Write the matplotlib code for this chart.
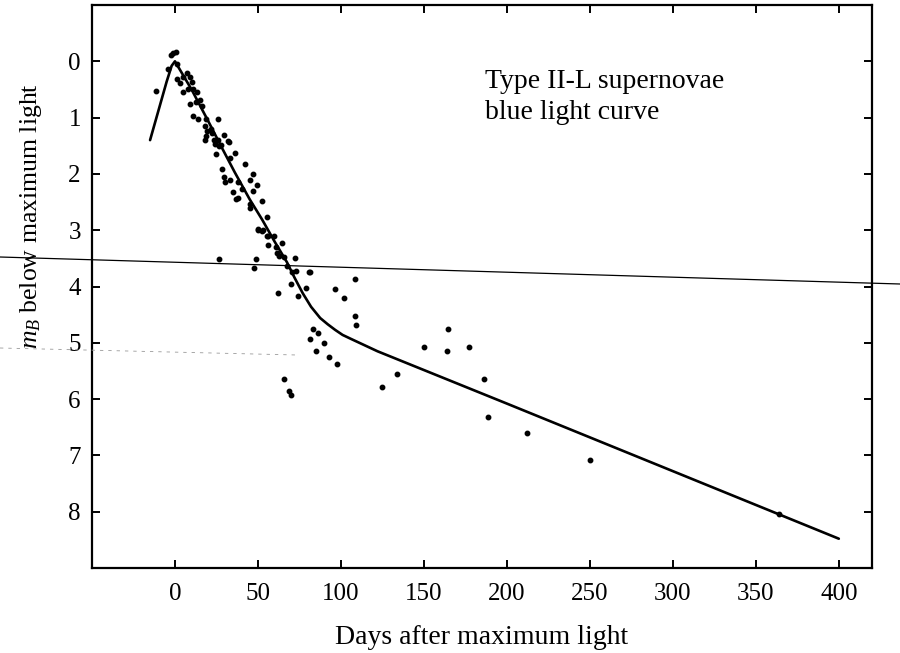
import matplotlib
matplotlib.use("Agg")
import matplotlib.pyplot as plt
from matplotlib.lines import Line2D

plt.rcParams['font.family'] = ['Liberation Serif', 'DejaVu Serif']
plt.rcParams['mathtext.fontset'] = 'custom'
plt.rcParams['mathtext.rm'] = 'Liberation Serif'
plt.rcParams['mathtext.it'] = 'Liberation Serif:italic'

# Template light curve (days after max, magnitudes below max)
curve_days = [-15, -10, -5, -2, 0, 10, 20, 28, 36, 45, 52.5, 60, 67.5, 72, 77, 82, 87.5, 92, 96.5, 101, 106, 122, 200, 300, 400]
curve_mag = [1.40, 0.88, 0.36, 0.08, 0.0, 0.50, 1.06, 1.52, 1.97, 2.45, 2.81, 3.20, 3.57, 3.84, 4.12, 4.36, 4.56, 4.67, 4.77, 4.86, 4.93, 5.15, 6.08, 7.28, 8.48]

# Observed points
obs_days = [-1.2, -2.5, 0.5, -4, 1, -11.5, 1.2, 3, 5, 7, 9, 10, 11, 8, 5, 13, 15, 12.5, 9, 16,
            11, 14, 19, 26, 18, 22, 19, 26, 28, 32, 24,
            19.3, 22.3, 29.6, 18, 23.5, 32.6, 26.5, 24.7, 36, 33.2, 42.2, 28.3, 47, 29.6, 33.2, 45.2,
            49.5, 30, 38, 40.4, 47, 35, 38, 36.8, 52.5, 45.2, 45.2, 55.5, 50, 52.5, 55.5,
            50, 53, 56, 59.7, 56, 64.5, 61, 61.5, 62.7, 66, 72.4, 49, 47.6, 67.5, 70.6, 73, 80.8,
            70, 79, 62, 74, 26.5, 108.6, 96.5, 102, 81.4,
            108.6, 109, 164.7, 150, 163.8, 177, 133.7, 125, 186, 188.6, 212, 250, 364,
            83.3, 86, 81.4, 90, 85, 93, 97.7, 65.7, 69, 70]
obs_mag = [-0.14, -0.12, -0.16, 0.14, 0.05, 0.53, 0.32, 0.38, 0.27, 0.2, 0.27, 0.37, 0.5, 0.5, 0.55, 0.55, 0.68, 0.73, 0.76, 0.8,
           0.98, 1.03, 1.03, 1.03, 1.15, 1.21, 1.33, 1.39, 1.48, 1.42, 1.46,
           1.24, 1.27, 1.3, 1.39, 1.39, 1.44, 1.51, 1.65, 1.62, 1.72, 1.83, 1.92, 2.01, 2.06, 2.1, 2.1,
           2.2, 2.15, 2.15, 2.26, 2.31, 2.33, 2.42, 2.45, 2.49, 2.54, 2.61, 2.77, 2.97, 3.02, 3.1,
           3.0, 3.0, 3.1, 3.11, 3.26, 3.22, 3.29, 3.4, 3.45, 3.47, 3.5, 3.52, 3.68, 3.64, 3.75, 3.73, 3.75,
           3.96, 4.02, 4.12, 4.17, 3.52, 3.86, 4.05, 4.2, 3.75,
           4.52, 4.68, 4.75, 5.07, 5.15, 5.08, 5.55, 5.78, 5.65, 6.31, 6.6, 7.08, 8.04,
           4.76, 4.82, 4.94, 5.0, 5.14, 5.26, 5.37, 5.65, 5.85, 5.92]

x_ticks = [0, 50, 100, 150, 200, 250, 300, 350, 400]
y_ticks = [0, 1, 2, 3, 4, 5, 6, 7, 8]

fig = plt.figure(figsize=(9, 6.53), dpi=100)
ax = fig.add_axes([0.1022, 0.1302, 0.8667, 0.8621])

ax.plot(curve_days, curve_mag, color='black', lw=1.9, solid_capstyle='round', solid_joinstyle='round')
ax.plot(obs_days, obs_mag, linestyle='none', marker='o', ms=3.2, color='black')

ax.set_xlim(-50, 420)
ax.set_ylim(9, -1)
ax.set_xticks(x_ticks)
ax.set_yticks(y_ticks)
ax.tick_params(direction='in', length=6, width=1.4, top=True, right=True,
               labelsize=18, colors='black')
ax.tick_params(axis='x', pad=11)
ax.tick_params(axis='y', pad=8)
for s in ax.spines.values():
    s.set_linewidth(1.6)

ax.set_xlabel('Days after maximum light', fontsize=20, labelpad=14)
ax.set_ylabel('$m_B$ below maximum light', fontsize=18.5)
ax.yaxis.set_label_coords(-0.062, 0.625)

ax.text(187, 0.14, 'Type II-L supernovae\nblue light curve', fontsize=20,
        ha='left', va='top', linespacing=1.3)

# scan artefact: stray line across the page
fig.add_artist(Line2D([0, 1], [1 - 257 / 653, 1 - 284 / 653], transform=fig.transFigure,
                      color='black', lw=0.9))
fig.add_artist(Line2D([0.0, 0.33], [1 - 348 / 653, 1 - 355 / 653], transform=fig.transFigure,
                      color='#999999', lw=0.6, ls=(0, (4, 6))))

fig.savefig('out.png', dpi=100)
